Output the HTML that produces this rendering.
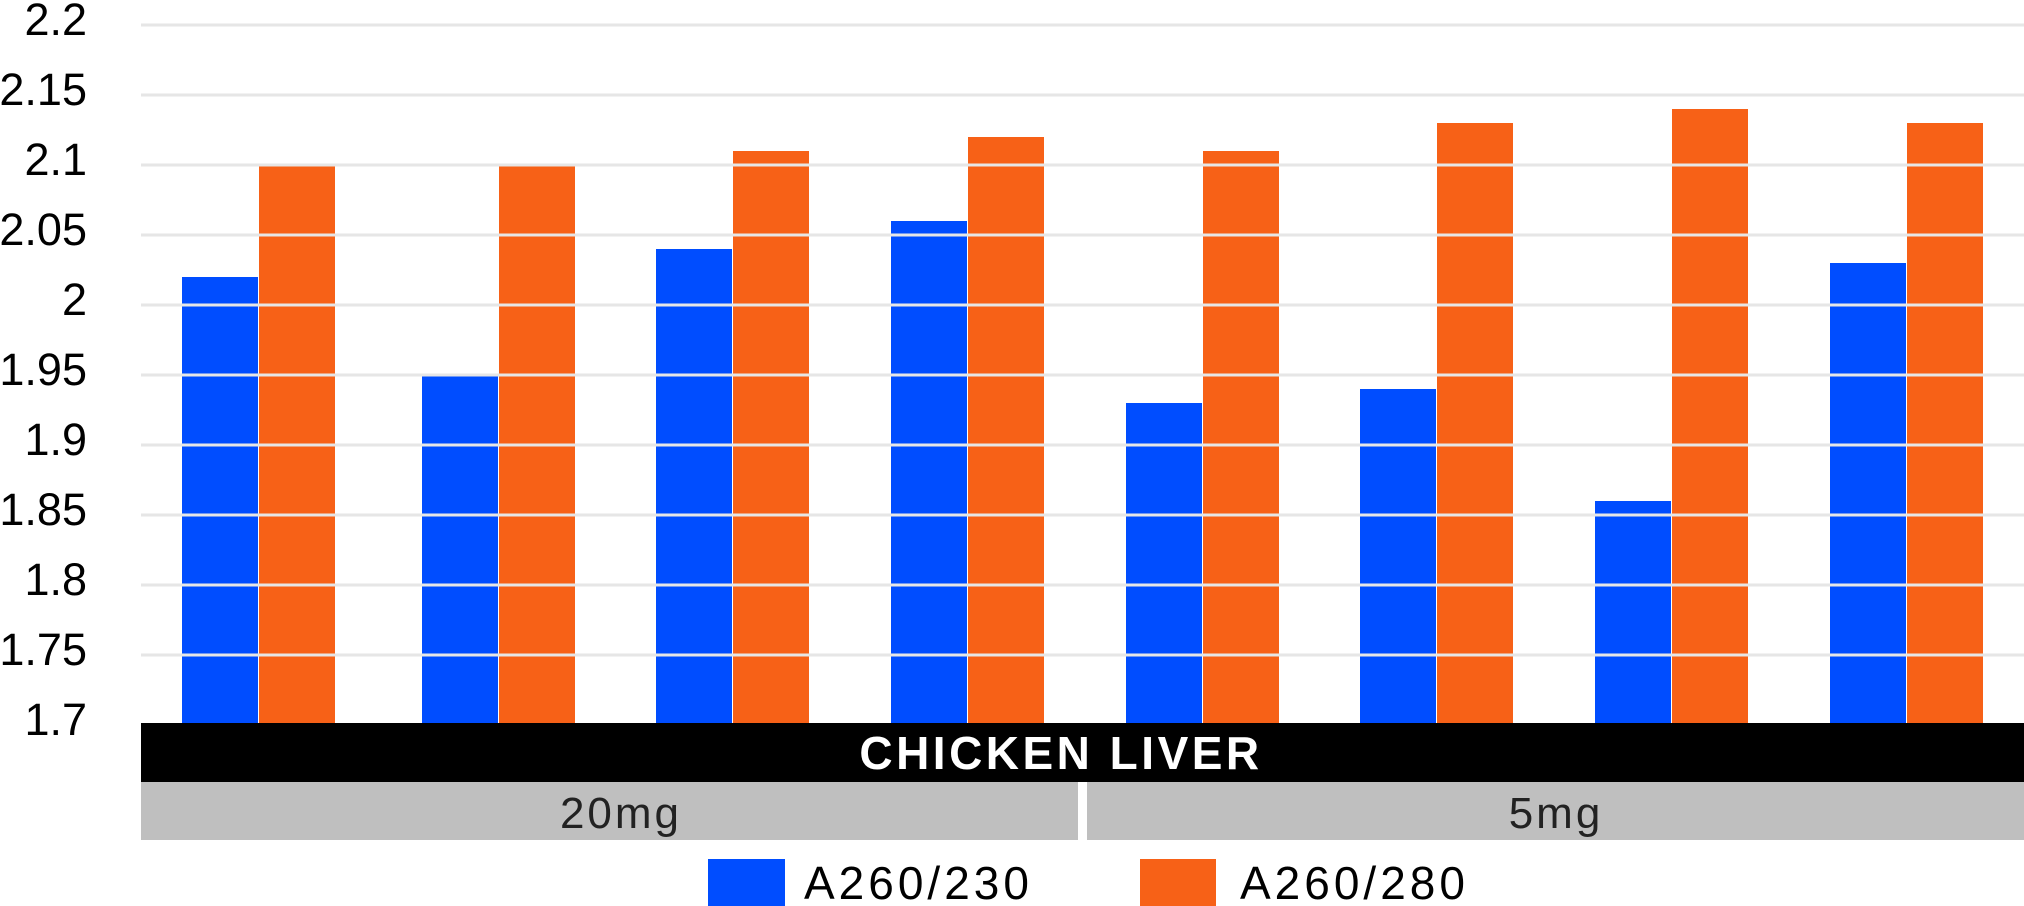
<!DOCTYPE html>
<html><head><meta charset="utf-8"><style>
html,body{margin:0;padding:0;background:#fff;width:2024px;height:906px;overflow:hidden}
svg text{font-family:"Liberation Sans",sans-serif}
</style></head><body>
<svg width="2024" height="906" viewBox="0 0 2024 906" xmlns="http://www.w3.org/2000/svg">
<g id="bars"></g>
<g id="grid"></g>
<g font-size="45" fill="#000" text-anchor="end" id="ylab"></g>
<rect x="141" y="723" width="1883" height="59" fill="#000"/>
<text x="1061" y="769" font-size="46" font-weight="bold" fill="#fff" text-anchor="middle" letter-spacing="3.5">CHICKEN LIVER</text>
<rect x="141" y="782" width="937" height="58" fill="#bfbfbf"/>
<rect x="1087" y="782" width="937" height="58" fill="#bfbfbf"/>
<text x="621" y="828" font-size="44" fill="#222" text-anchor="middle" letter-spacing="3">20mg</text>
<text x="1556" y="828" font-size="44" fill="#222" text-anchor="middle" letter-spacing="3">5mg</text>
<rect x="708" y="859" width="77" height="47" fill="#004dff"/>
<text x="804" y="899" font-size="46" fill="#000" letter-spacing="4">A260/230</text>
<rect x="1140" y="859" width="76" height="47" fill="#f76117"/>
<text x="1240" y="899" font-size="46" fill="#000" letter-spacing="4">A260/280</text>
</svg>
<script>
var ns="http://www.w3.org/2000/svg";
function el(p,t,a,txt){var e=document.createElementNS(ns,t);for(var k in a)e.setAttribute(k,a[k]);if(txt)e.textContent=txt;document.getElementById(p).appendChild(e);}
var b=[2.02,1.95,2.04,2.06,1.93,1.94,1.86,2.03],o=[2.10,2.10,2.11,2.12,2.11,2.13,2.14,2.13];
var xs=[182,422,656,891,1126,1360,1595,1830];
function Y(v){return 725-1400*(v-1.7);}
for(var i=0;i<8;i++){var x=xs[i];
el("bars","rect",{x:x,y:Y(b[i]),width:76,height:723-Y(b[i]),fill:"#004dff"});
el("bars","rect",{x:x+77,y:Y(o[i]),width:76,height:723-Y(o[i]),fill:"#f76117"});}
var labs=["2.2","2.15","2.1","2.05","2","1.95","1.9","1.85","1.8","1.75","1.7"];
for(var j=0;j<11;j++){var y=25+70*j;
if(j<10)el("grid","rect",{x:141,y:y-1.5,width:1883,height:3,fill:"#e6e6e6"});
el("ylab","text",{x:87,y:y+10},labs[j]);}
</script>
</body></html>
